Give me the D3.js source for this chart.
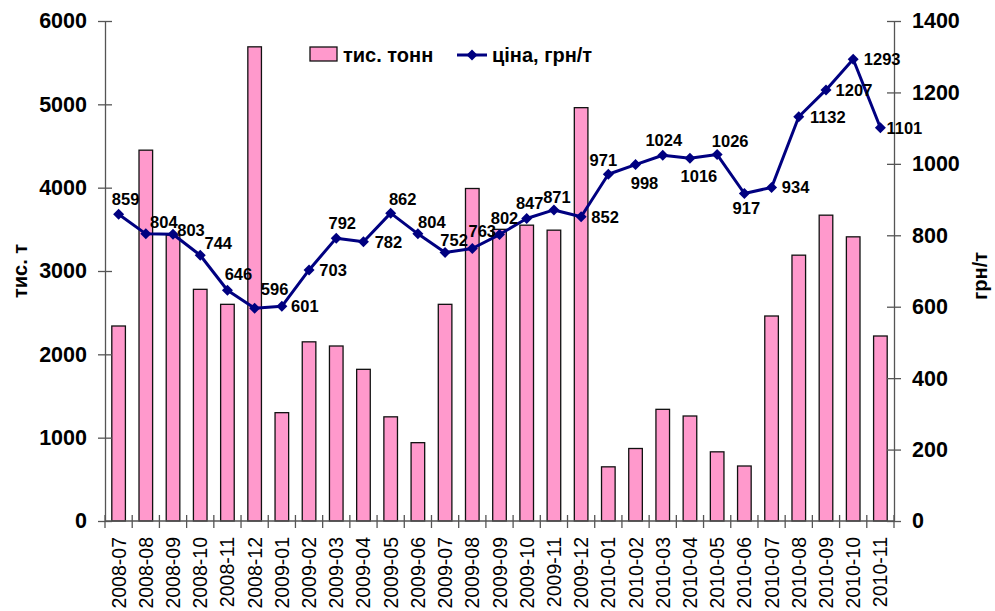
<!DOCTYPE html>
<html>
<head>
<meta charset="utf-8">
<script src="https://cdn.jsdelivr.net/npm/d3@7"></script>
<style>
  body { margin: 0; background: #fff; }
  text { font-family: "Liberation Sans", Arial, sans-serif; }
</style>
</head>
<body>
<svg id="chart" width="995" height="611"></svg>
<script>
// data
const months = [
  "2008-07", "2008-08", "2008-09", "2008-10", "2008-11", "2008-12",
  "2009-01", "2009-02", "2009-03", "2009-04", "2009-05", "2009-06",
  "2009-07", "2009-08", "2009-09", "2009-10", "2009-11", "2009-12",
  "2010-01", "2010-02", "2010-03", "2010-04", "2010-05", "2010-06",
  "2010-07", "2010-08", "2010-09", "2010-10", "2010-11"
];
const volume = [
  2340, 4450, 3430, 2780, 2600, 5690,
  1300, 2150, 2100, 1820, 1250, 940,
  2600, 3990, 3500, 3550, 3490, 4960,
  650, 870, 1340, 1260, 830, 660,
  2460, 3190, 3670, 3410, 2220
];
const price = [
  859, 804, 803, 744, 646, 596,
  601, 703, 792, 782, 862, 804,
  752, 763, 802, 847, 871, 852,
  971, 998, 1024, 1016, 1026, 917,
  934, 1132, 1207, 1293, 1101
];
const leftTicks = [0, 1000, 2000, 3000, 4000, 5000, 6000];
const rightTicks = [0, 200, 400, 600, 800, 1000, 1200, 1400];

// label offsets from each marker (label centre)
const labelOffsets = [
  [7, -15], [18, -12], [18, -4], [18, -12], [11, -16], [20, -19],
  [23, 0], [24, 0], [6, -15], [25, 0], [12, -14], [14, -12],
  [9, -12], [10, -17], [5, -17], [3, -15], [3, -13], [24, 0],
  [-5, -14], [9, 18], [1, -15], [9, 18], [13, -14], [2, 15],
  [24, 0], [29, 0], [28, 0], [29, 0], [24, 0]
];

const svg = d3.select("#chart");
const plotLeft = 105, plotRight = 894, plotTop = 21, plotBottom = 521;
const axisColor = "#555";

const x = d3.scaleBand().domain(months).range([plotLeft, plotRight])
  .paddingInner(0.5).paddingOuter(0.25);
const step = x.step();
const cx = (d) => x(d) + x.bandwidth() / 2;
const yL = d3.scaleLinear().domain([0, 6000]).range([plotBottom, plotTop]);
const yR = d3.scaleLinear().domain([0, 1400]).range([plotBottom, plotTop]);

// bars
svg.append("g")
  .selectAll("rect")
  .data(volume)
  .enter()
  .append("rect")
  .attr("x", (d, i) => x(months[i]))
  .attr("y", (d) => yL(d))
  .attr("width", x.bandwidth())
  .attr("height", (d) => plotBottom - yL(d))
  .attr("fill", "#FF99CC")
  .attr("stroke", "#111")
  .attr("stroke-width", 1.3);

// left axis
const gL = svg.append("g")
  .attr("transform", "translate(" + plotLeft + ",0)")
  .call(d3.axisLeft(yL).tickValues(leftTicks).tickFormat(d3.format("d"))
    .tickSize(7).tickPadding(11).tickSizeOuter(0));
gL.selectAll(".tick line").attr("x1", 7).attr("stroke", axisColor).attr("stroke-width", 1.3);
gL.select(".domain").attr("stroke", axisColor).attr("stroke-width", 1.3);
gL.selectAll(".tick text")
  .attr("font-size", 21.5).attr("font-weight", "bold").attr("fill", "#000")
  .style("font-family", "'Liberation Sans', Arial, sans-serif");

// right axis
const gR = svg.append("g")
  .attr("transform", "translate(" + plotRight + ",0)")
  .call(d3.axisRight(yR).tickValues(rightTicks).tickFormat(d3.format("d"))
    .tickSize(7).tickPadding(11).tickSizeOuter(0));
gR.selectAll(".tick line").attr("x1", -7).attr("stroke", axisColor).attr("stroke-width", 1.3);
gR.select(".domain").attr("stroke", axisColor).attr("stroke-width", 1.3);
gR.selectAll(".tick text")
  .attr("font-size", 21.5).attr("font-weight", "bold").attr("fill", "#000")
  .style("font-family", "'Liberation Sans', Arial, sans-serif");

// bottom axis
const gB = svg.append("g")
  .attr("transform", "translate(0," + plotBottom + ")")
  .call(d3.axisBottom(x).tickSize(0).tickPadding(0).tickSizeOuter(0));
gB.select(".domain").attr("d", "M" + plotLeft + ",0H" + plotRight)
  .attr("stroke", axisColor).attr("stroke-width", 1.3);
gB.selectAll(".tick text")
  .attr("transform", "rotate(-90)")
  .attr("x", -16).attr("y", 0).attr("dy", "0.36em")
  .style("text-anchor", "end")
  .attr("font-size", 19.5).attr("fill", "#000")
  .style("font-family", "'Liberation Sans', Arial, sans-serif");
svg.append("g")
  .selectAll("line")
  .data(d3.range(months.length + 1))
  .enter()
  .append("line")
  .attr("x1", (i) => plotLeft + i * step)
  .attr("x2", (i) => plotLeft + i * step)
  .attr("y1", plotBottom - 6)
  .attr("y2", plotBottom + 7)
  .attr("stroke", axisColor)
  .attr("stroke-width", 1.3);

// price line
const line = d3.line().x((d, i) => cx(months[i])).y((d) => yR(d));
svg.append("path")
  .datum(price)
  .attr("d", line)
  .attr("fill", "none")
  .attr("stroke", "#000080")
  .attr("stroke-width", 3)
  .attr("stroke-linejoin", "round");

const diamond = "M0,-5.5L5.5,0L0,5.5L-5.5,0Z";
svg.append("g")
  .selectAll("path")
  .data(price)
  .enter()
  .append("path")
  .attr("d", diamond)
  .attr("transform", (d, i) => "translate(" + cx(months[i]) + "," + yR(d) + ")")
  .attr("fill", "#000080");

svg.append("g")
  .selectAll("text")
  .data(price)
  .enter()
  .append("text")
  .attr("x", (d, i) => cx(months[i]) + labelOffsets[i][0])
  .attr("y", (d, i) => yR(d) + labelOffsets[i][1])
  .attr("dy", "0.36em")
  .style("text-anchor", "middle")
  .attr("font-size", 16.5)
  .attr("font-weight", "bold")
  .text((d) => d);

// axis titles
svg.append("text")
  .attr("transform", "translate(27,271) rotate(-90)")
  .style("text-anchor", "middle")
  .attr("font-size", 20)
  .attr("font-weight", "bold")
  .text("тис. т");
svg.append("text")
  .attr("transform", "translate(987,276) rotate(-90)")
  .style("text-anchor", "middle")
  .attr("font-size", 20)
  .attr("font-weight", "bold")
  .text("грн/т");

// legend
const lg = svg.append("g");
lg.append("rect")
  .attr("x", 310).attr("y", 47).attr("width", 27).attr("height", 14)
  .attr("fill", "#FF99CC").attr("stroke", "#111").attr("stroke-width", 1.3);
lg.append("text")
  .attr("x", 343).attr("y", 55).attr("dy", "0.36em")
  .attr("font-size", 20).attr("font-weight", "bold")
  .text("тис. тонн");
lg.append("line")
  .attr("x1", 457).attr("x2", 487).attr("y1", 55).attr("y2", 55)
  .attr("stroke", "#000080").attr("stroke-width", 3);
lg.append("path")
  .attr("d", diamond)
  .attr("transform", "translate(472,55)")
  .attr("fill", "#000080");
lg.append("text")
  .attr("x", 492).attr("y", 55).attr("dy", "0.36em")
  .attr("font-size", 20).attr("font-weight", "bold")
  .text("ціна, грн/т");
</script>
</body>
</html>
